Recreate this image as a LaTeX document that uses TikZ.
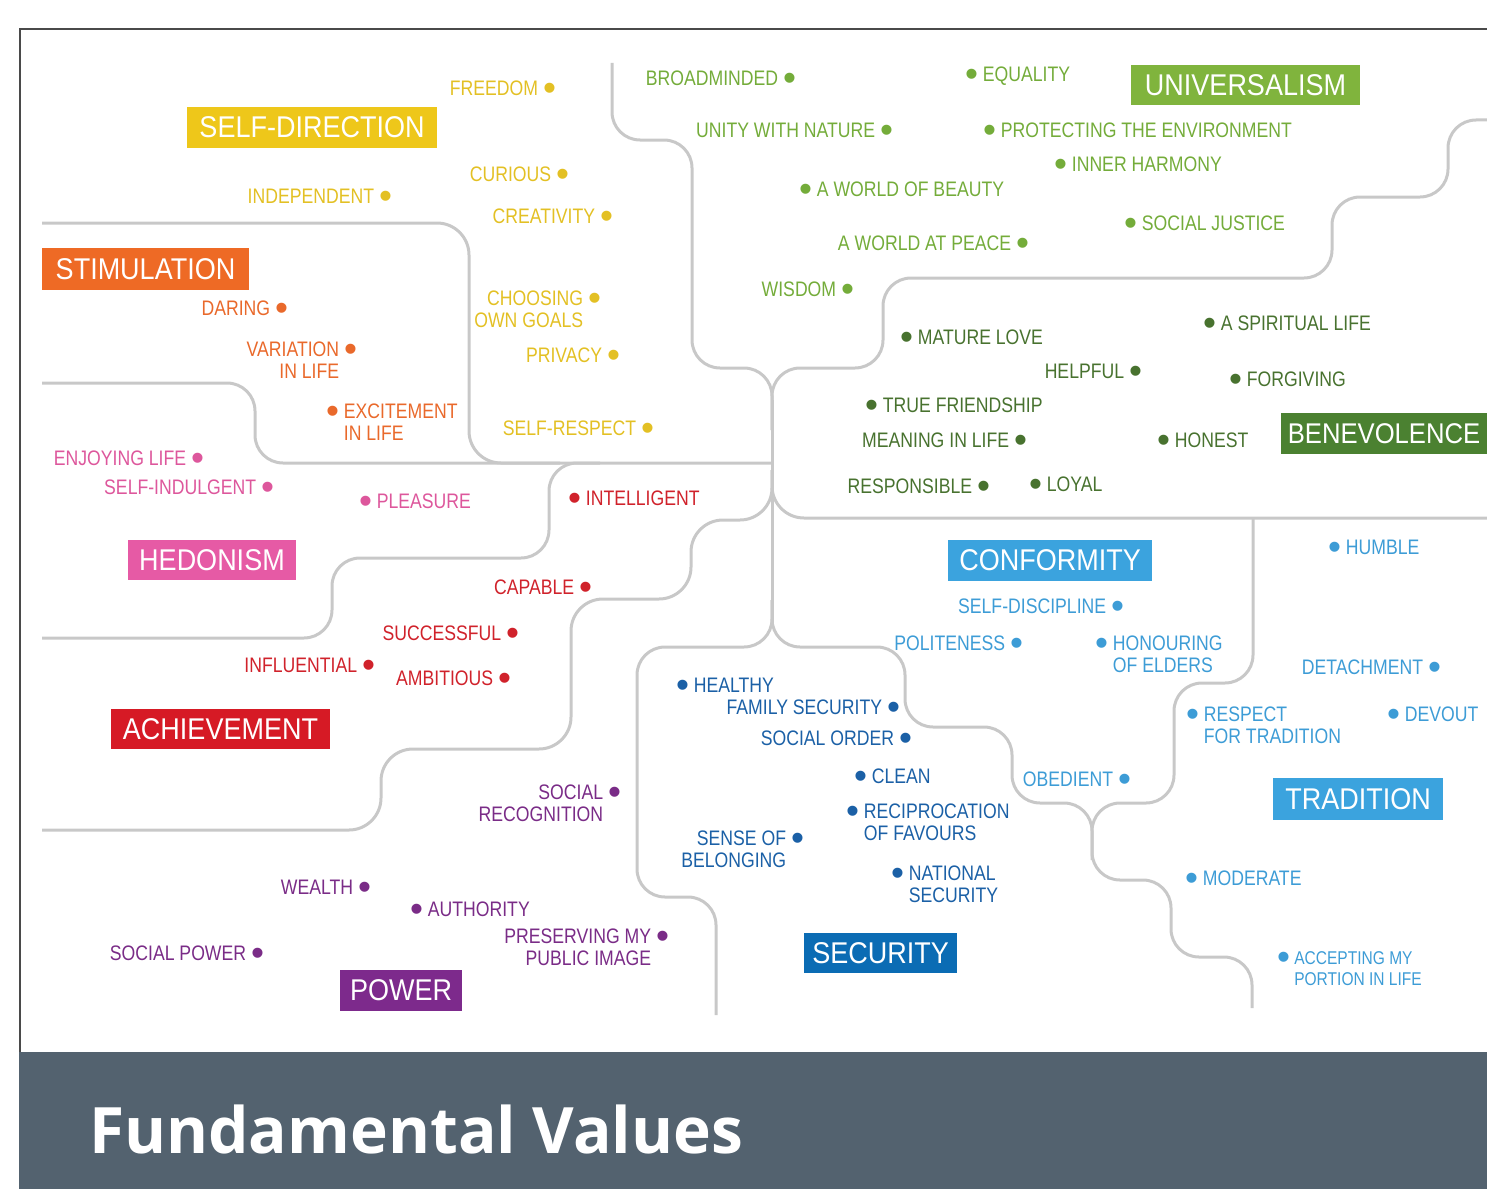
\documentclass[tikz,border=0pt]{standalone}
\usepackage{fontspec}
\newfontfamily\itemfont[FakeStretch=0.84]{Liberation Sans}
\newfontfamily\catfont[FakeStretch=0.9]{Liberation Sans}
\newfontfamily\dotfont{Liberation Sans}
\newfontfamily\titlefont{Open Sans}
% value bullet
\newcommand\dt{\raisebox{-5pt}{\dotfont\fontsize{37}{22}\selectfont •}}

\definecolor{lineg}{HTML}{C8C8C8}
\definecolor{framec}{HTML}{4A4A4A}
\definecolor{bandc}{HTML}{53626F}
\definecolor{sdbox}{HTML}{EEC71A}\definecolor{sdtxt}{HTML}{E3C024}
\definecolor{stbox}{HTML}{EE6A25}\definecolor{sttxt}{HTML}{E9692B}
\definecolor{hebox}{HTML}{E65AA5}\definecolor{hetxt}{HTML}{DD579C}
\definecolor{acbox}{HTML}{D61A25}\definecolor{actxt}{HTML}{D0222B}
\definecolor{pobox}{HTML}{7D2A8C}\definecolor{potxt}{HTML}{7A2C87}
\definecolor{sebox}{HTML}{0B6CB4}\definecolor{setxt}{HTML}{1B60A6}
\definecolor{cobox}{HTML}{3BA3DE}\definecolor{cotxt}{HTML}{3D9CD6}
\definecolor{unbox}{HTML}{80B43D}\definecolor{untxt}{HTML}{74AC3A}
\definecolor{bebox}{HTML}{4B8131}\definecolor{betxt}{HTML}{48722F}

\tikzset{
  item/.style={inner sep=0pt, outer sep=0pt, font=\itemfont\fontsize{21}{22}\selectfont},
  itemr/.style={item, anchor=north east, align=right},
  iteml/.style={item, anchor=north west, align=left},
  cat/.style={inner sep=0pt, outer sep=0pt, anchor=north west, text=white,
              font=\catfont\fontsize{30}{30}\selectfont},
  divider/.style={draw=lineg, line width=3pt, rounded corners=28pt},
}

\begin{document}
\begin{tikzpicture}[x=1pt,y=-1pt]
\useasboundingbox (0,0) rectangle (1487,1188);
\begin{scope}
\clip (0,0) rectangle (1487,1188);

% frame and title band
\draw[framec, line width=2pt] (1495,29) -- (20,29) -- (20,1053);
\fill[bandc] (19,1052) rectangle (1495,1195);
\node[anchor=base west, inner sep=0pt, text=white,
      font=\titlefont\bfseries\fontsize{64}{70}\selectfont] (title) at (89,1153) {Fundamental Values};

% dividing lines
\draw[divider] (612,63) -- (612,140) -- (692,140) -- (692,368) -- (772,368) -- (772,430);
\draw[divider] (1495,120) -- (1448,120) -- (1448,197) -- (1332,197) -- (1332,278)
               -- (883,278) -- (883,368) -- (772,368) -- (772,430);
\draw[divider] (772,400) -- (772,625);
\draw[divider, rounded corners=32pt] (42,223) -- (469,223) -- (469,463) -- (560,463);
\draw[divider] (42,383) -- (255,383) -- (255,463) -- (772,463);
\draw[divider] (42,638) -- (332,638) -- (332,558) -- (549,558) -- (549,463) -- (600,463);
\draw[divider, rounded corners=32pt] (42,830) -- (381,830) -- (381,749) -- (571,749)
               -- (571,599) -- (691,599) -- (691,520) -- (772,520) -- (772,470);
\draw[divider, rounded corners=32pt] (1495,518) -- (772,518) -- (772,470);
\draw[divider] (772,600) -- (772,647) -- (637,647) -- (637,897) -- (716,897) -- (716,1015);
\draw[divider] (772,600) -- (772,647) -- (905,647) -- (905,727) -- (1012,727) -- (1012,803)
               -- (1092,803) -- (1092,880) -- (1171,880) -- (1171,957) -- (1252,957) -- (1252,1008);
\draw[divider] (1253,518) -- (1253,683) -- (1174,683) -- (1174,803) -- (1092,803) -- (1092,860);

% SELF-DIRECTION
\node[cat, fill=sdbox, minimum width=250pt, minimum height=41pt] (selfdir) at (187,107) {SELF-DIRECTION};
\begin{scope}[text=sdtxt]
\node[itemr] (freedom) at (556,81) {FREEDOM~\dt};
\node[itemr] (curious) at (569,167) {CURIOUS~\dt};
\node[itemr] (independent) at (392,189) {INDEPENDENT~\dt};
\node[itemr] (creativity) at (613,209) {CREATIVITY~\dt};
\node[itemr] (choosing) at (601,291) {CHOOSING~\dt\\OWN GOALS\phantom{~\dt}};
\node[itemr] (privacy) at (620,348) {PRIVACY~\dt};
\node[itemr] (selfrespect) at (654,421) {SELF-RESPECT~\dt};
\end{scope}

% STIMULATION
\node[cat, fill=stbox, minimum width=207pt, minimum height=42pt] (stimulation) at (42,248) {STIMULATION};
\begin{scope}[text=sttxt]
\node[itemr] (daring) at (288,301) {DARING~\dt};
\node[itemr] (variation) at (357,342) {VARIATION~\dt\\IN LIFE\phantom{~\dt}};
\node[iteml] (excitement) at (326,404) {\dt~EXCITEMENT\\\phantom{\dt~}IN LIFE};
\end{scope}

% HEDONISM
\node[cat, fill=hebox, minimum width=168pt, minimum height=40pt] (hedonism) at (128,540) {HEDONISM};
\begin{scope}[text=hetxt]
\node[itemr] (enjoying) at (204,451) {ENJOYING LIFE~\dt};
\node[itemr] (indulgent) at (274,480) {SELF-INDULGENT~\dt};
\node[iteml] (pleasure) at (359,494) {\dt~PLEASURE};
\end{scope}

% ACHIEVEMENT
\node[cat, fill=acbox, minimum width=219pt, minimum height=40pt] (achievement) at (111,709) {ACHIEVEMENT};
\begin{scope}[text=actxt]
\node[iteml] (intelligent) at (568,491) {\dt~INTELLIGENT};
\node[itemr] (capable) at (592,580) {CAPABLE~\dt};
\node[itemr] (successful) at (519,626) {SUCCESSFUL~\dt};
\node[itemr] (influential) at (375,658) {INFLUENTIAL~\dt};
\node[itemr] (ambitious) at (511,671) {AMBITIOUS~\dt};
\end{scope}

% POWER
\node[cat, fill=pobox, minimum width=122pt, minimum height=41pt] (power) at (340,970) {POWER};
\begin{scope}[text=potxt]
\node[itemr] (recognition) at (621,785) {SOCIAL~\dt\\RECOGNITION\phantom{~\dt}};
\node[itemr] (wealth) at (371,880) {WEALTH~\dt};
\node[iteml] (authority) at (410,902) {\dt~AUTHORITY};
\node[itemr] (publicimage) at (669,929) {PRESERVING MY~\dt\\PUBLIC IMAGE\phantom{~\dt}};
\node[itemr] (socialpower) at (264,946) {SOCIAL POWER~\dt};
\end{scope}

% SECURITY
\node[cat, fill=sebox, minimum width=153pt, minimum height=40pt] (security) at (804,933) {SECURITY};
\begin{scope}[text=setxt]
\node[iteml] (healthy) at (676,678) {\dt~HEALTHY};
\node[itemr] (familysec) at (900,700) {FAMILY SECURITY~\dt};
\node[itemr] (socialorder) at (912,731) {SOCIAL ORDER~\dt};
\node[iteml] (clean) at (854,769) {\dt~CLEAN};
\node[iteml] (reciprocation) at (846,804) {\dt~RECIPROCATION\\\phantom{\dt~}OF FAVOURS};
\node[itemr] (belonging) at (804,831) {SENSE OF~\dt\\BELONGING\phantom{~\dt}};
\node[iteml] (national) at (891,866) {\dt~NATIONAL\\\phantom{\dt~}SECURITY};
\end{scope}

% CONFORMITY
\node[cat, fill=cobox, minimum width=204pt, minimum height=41pt] (conformity) at (948,540) {CONFORMITY};
\begin{scope}[text=cotxt]
\node[itemr] (selfdiscipline) at (1124,599) {SELF-DISCIPLINE~\dt};
\node[itemr] (politeness) at (1023,636) {POLITENESS~\dt};
\node[iteml] (honouring) at (1095,636) {\dt~HONOURING\\\phantom{\dt~}OF ELDERS};
\node[itemr] (obedient) at (1131,772) {OBEDIENT~\dt};
\end{scope}

% TRADITION
\node[cat, fill=cobox, minimum width=170pt, minimum height=42pt] (tradition) at (1273,778) {TRADITION};
\begin{scope}[text=cotxt]
\node[iteml] (humble) at (1328,540) {\dt~HUMBLE};
\node[itemr] (detachment) at (1441,660) {DETACHMENT~\dt};
\node[iteml] (respecttrad) at (1186,707) {\dt~RESPECT\\\phantom{\dt~}FOR TRADITION};
\node[iteml] (devout) at (1387,707) {\dt~DEVOUT};
\node[iteml] (moderate) at (1185,871) {\dt~MODERATE};
\node[iteml, font=\itemfont\fontsize{18.5}{21}\selectfont] (accepting) at (1277,952)
     {\dt~ACCEPTING MY\\\phantom{\dt~}PORTION IN LIFE};
\end{scope}

% BENEVOLENCE (box runs to the right edge)
\node[cat, fill=bebox, minimum width=206pt, minimum height=41pt,
      font=\catfont\fontsize{28.5}{30}\selectfont] (benevolence) at (1281,413) {BENEVOLENCE};
\begin{scope}[text=betxt]
\node[iteml] (spiritual) at (1203,316) {\dt~A SPIRITUAL LIFE};
\node[iteml] (maturelove) at (900,330) {\dt~MATURE LOVE};
\node[itemr] (helpful) at (1142,364) {HELPFUL~\dt};
\node[iteml] (forgiving) at (1229,372) {\dt~FORGIVING};
\node[iteml] (friendship) at (865,398) {\dt~TRUE FRIENDSHIP};
\node[itemr] (meaning) at (1027,433) {MEANING IN LIFE~\dt};
\node[iteml] (honest) at (1157,433) {\dt~HONEST};
\node[itemr] (responsible) at (990,479) {RESPONSIBLE~\dt};
\node[iteml] (loyal) at (1029,477) {\dt~LOYAL};
\end{scope}

% UNIVERSALISM
\node[cat, fill=unbox, minimum width=229pt, minimum height=40pt] (universalism) at (1131,65) {UNIVERSALISM};
\begin{scope}[text=untxt]
\node[itemr] (broadminded) at (796,71) {BROADMINDED~\dt};
\node[iteml] (equality) at (965,67) {\dt~EQUALITY};
\node[itemr] (unity) at (893,123) {UNITY WITH NATURE~\dt};
\node[iteml] (environment) at (983,123) {\dt~PROTECTING THE ENVIRONMENT};
\node[iteml] (harmony) at (1054,157) {\dt~INNER HARMONY};
\node[iteml] (beauty) at (799,182) {\dt~A WORLD OF BEAUTY};
\node[iteml] (justice) at (1124,216) {\dt~SOCIAL JUSTICE};
\node[itemr] (peace) at (1029,236) {A WORLD AT PEACE~\dt};
\node[itemr] (wisdom) at (854,282) {WISDOM~\dt};
\end{scope}

\end{scope}
\end{tikzpicture}
\end{document}
